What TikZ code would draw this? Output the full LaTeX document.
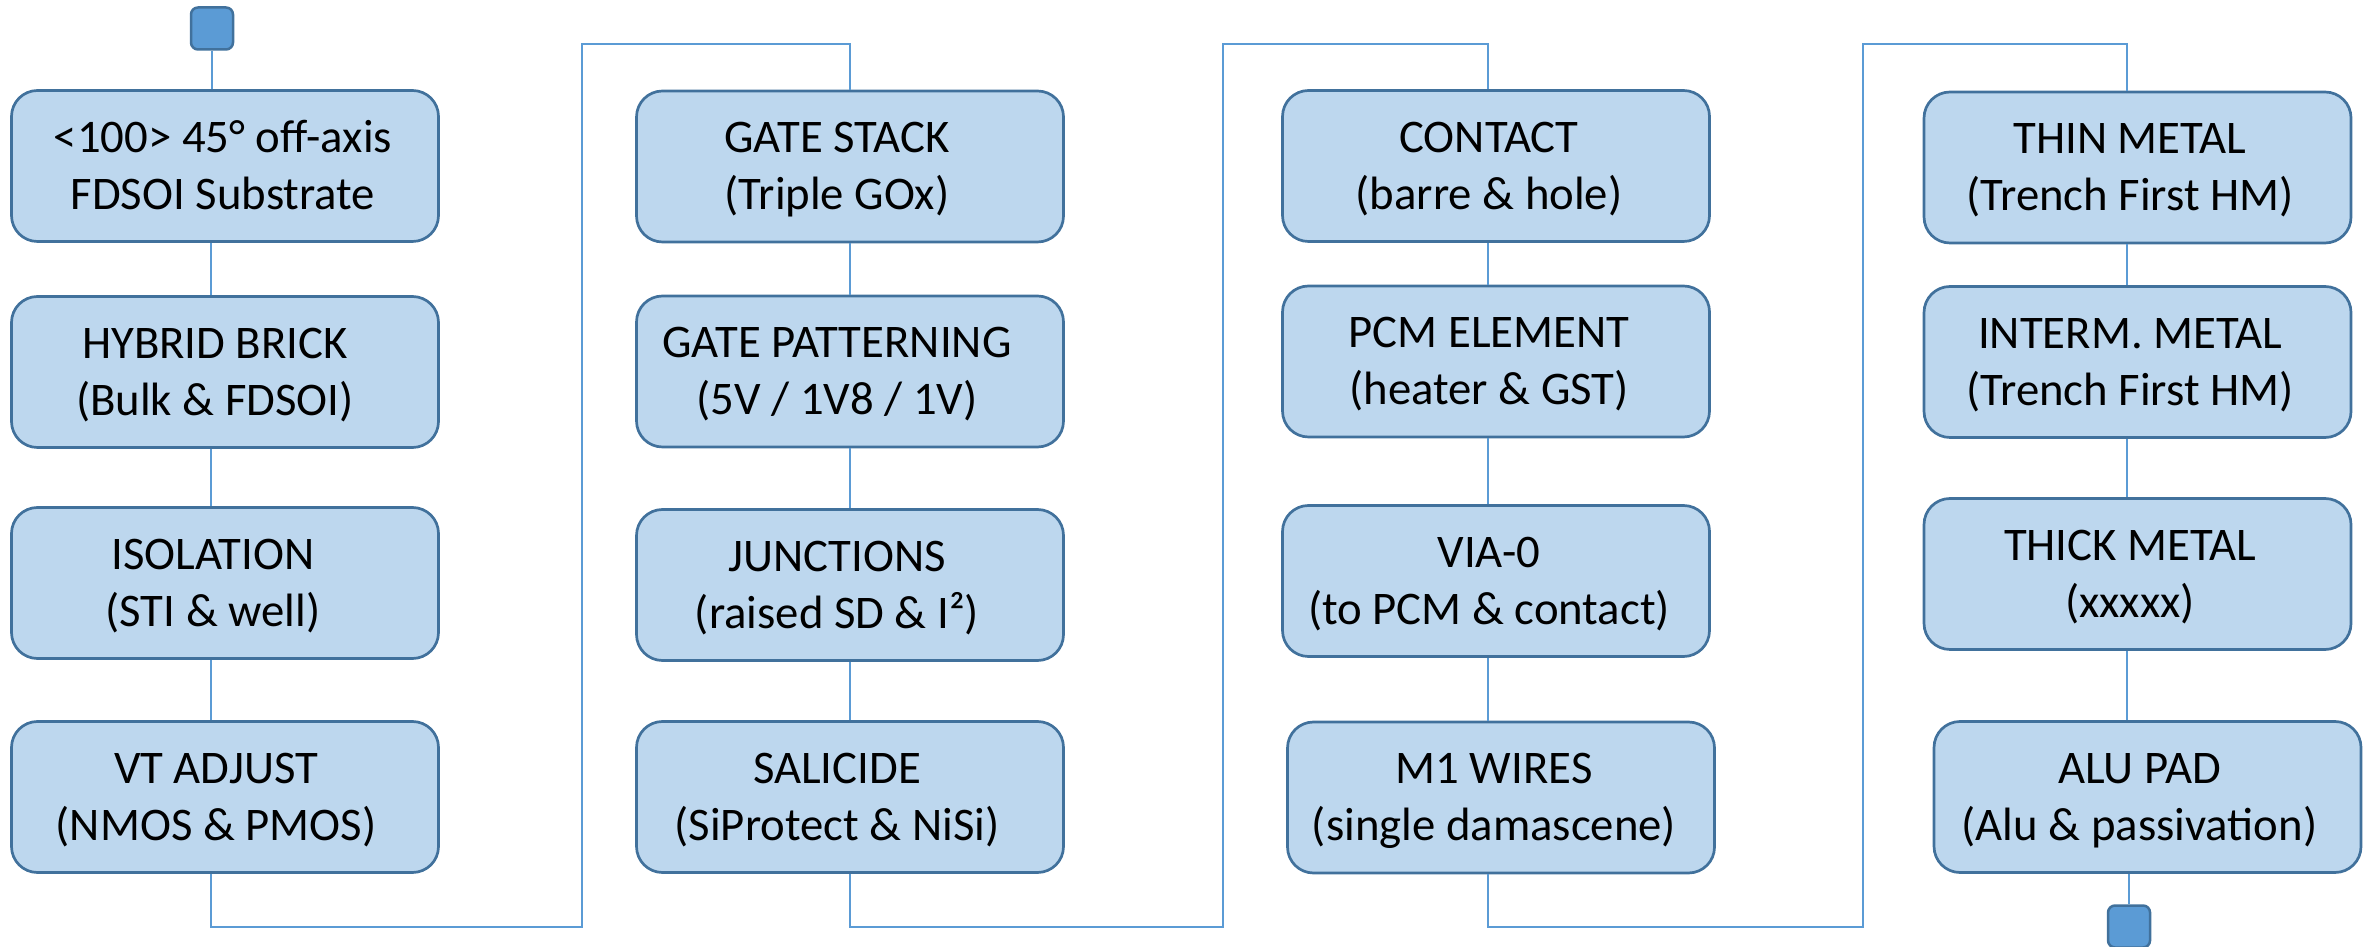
\documentclass[tikz,border=0pt]{standalone}
\usepackage{fontspec}
\setmainfont{Carlito}

\definecolor{boxfill}{RGB}{189,215,238}
\definecolor{boxline}{RGB}{65,113,156}
\definecolor{flowline}{RGB}{91,155,213}

% two centred lines of a process step; #1 moves the text sideways
\newcommand\steptext[3]{\makebox[0pt]{\kern#1\kern#1\raisebox{1.35mm}[0pt][0pt]{\begin{tabular}[t]{@{}c@{}}#2\\#3\end{tabular}}}}

\begin{document}
\begin{tikzpicture}[x=0.1mm,y=-0.1mm,
  stage/.style={draw=boxline, fill=boxfill, line width=0.27mm,
    rounded corners=2.6mm, minimum width=42.7mm, minimum height=15.1mm,
    inner sep=0pt, font=\fontsize{13.3}{16.2}\selectfont},
  term/.style={draw=boxline, fill=flowline, line width=0.25mm,
    rounded corners=0.7mm, minimum size=4.2mm, inner sep=0pt},
  flow/.style={draw=flowline, line width=0.16mm}]

\useasboundingbox (0,0) rectangle (2366,947);

% axes of the four columns and the turning points between them
\coordinate (L1) at (211,0);
\coordinate (L2) at (850,0);
\coordinate (L3) at (1488,0);
\coordinate (L4) at (2127,0);
\coordinate (J1b) at (582,927);  \coordinate (J1t) at (582,44);
\coordinate (J2b) at (1223,927); \coordinate (J2t) at (1223,44);
\coordinate (J3b) at (1863,927); \coordinate (J3t) at (1863,44);

% start and end terminals
\node[term] (tin)  at (212,28.5) {};
\node[term] (tout) at (2129,926.5) {};

% front end: substrate and isolation
\node[stage] (b11) at (225,166) {\steptext{-0.2mm}{<100> 45° off-axis}{FDSOI Substrate}};
\node[stage] (b12) at (225,372) {\steptext{-1.0mm}{HYBRID BRICK}{(Bulk \& FDSOI)}};
\node[stage] (b13) at (225,583) {\steptext{-1.2mm}{ISOLATION}{(STI \& well)}};
\node[stage] (b14) at (225,797) {\steptext{-0.9mm}{VT ADJUST}{(NMOS \& PMOS)}};

% transistor module
\node[stage] (b21) at (850,166.5) {\steptext{-1.3mm}{GATE STACK}{(Triple GOx)}};
\node[stage] (b22) at (850,371.5) {\steptext{-1.3mm}{GATE PATTERNING}{(5V / 1V8 / 1V)}};
\node[stage] (b23) at (850,585)   {\steptext{-1.3mm}{JUNCTIONS}{(raised SD \& I²)}};
\node[stage] (b24) at (850,797)   {\steptext{-1.3mm}{SALICIDE}{(SiProtect \& NiSi)}};

% contacts and memory element
\node[stage] (b31) at (1496,166)   {\steptext{-0.7mm}{CONTACT}{(barre \& hole)}};
\node[stage] (b32) at (1496,361.5) {\steptext{-0.7mm}{PCM ELEMENT}{(heater \& GST)}};
\node[stage] (b33) at (1496,581)   {\steptext{-0.7mm}{VIA-0}{(to PCM \& contact)}};
\node[stage] (b34) at (1501,797.5) {\steptext{-0.7mm}{M1 WIRES}{(single damascene)}};

% back end of line
\node[stage] (b41) at (2137.5,167.5) {\steptext{-0.75mm}{THIN METAL}{(Trench First HM)}};
\node[stage] (b42) at (2137.5,362)   {\steptext{-0.75mm}{INTERM. METAL}{(Trench First HM)}};
\node[stage] (b43) at (2137.5,574)   {\steptext{-0.75mm}{THICK METAL}{(xxxxx)}};
\node[stage] (b44) at (2147.5,797)   {\steptext{-0.8mm}{ALU PAD}{(Alu \& passivation)}};

% flow inside each column
\draw[flow] (tin.south) -- (tin.south |- b11.north);
\foreach \c/\L in {1/L1,2/L2,3/L3,4/L4}{
  \draw[flow] (b\c1.south -| \L) -- (b\c2.north -| \L);
  \draw[flow] (b\c2.south -| \L) -- (b\c3.north -| \L);
  \draw[flow] (b\c3.south -| \L) -- (b\c4.north -| \L);
}
\draw[flow] (tout.north) -- (tout.north |- b44.south);

% flow from one column to the next
\draw[flow] (b14.south -| L1) |- (J1b) -- (J1t) -| (b21.north -| L2);
\draw[flow] (b24.south -| L2) |- (J2b) -- (J2t) -| (b31.north -| L3);
\draw[flow] (b34.south -| L3) |- (J3b) -- (J3t) -| (b41.north -| L4);

\end{tikzpicture}
\end{document}
